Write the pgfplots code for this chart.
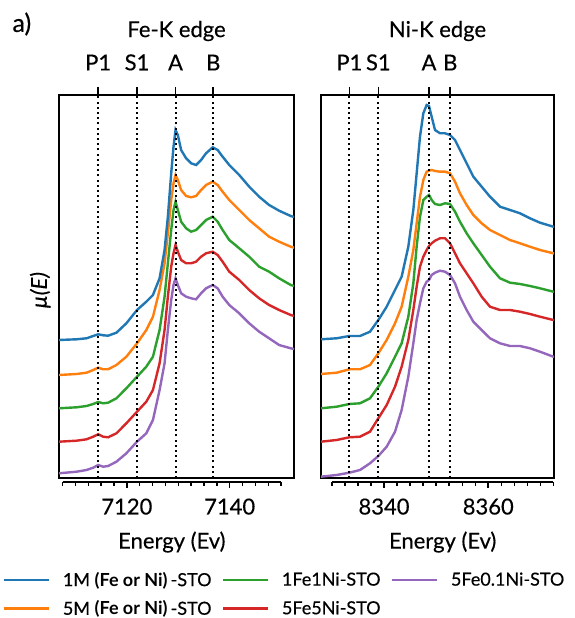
\documentclass[border=0pt]{standalone}
\usepackage{fontspec}
\setmainfont{Lato}[UprightFeatures={FakeBold=0.35}, ItalicFeatures={FakeBold=0.35}]
\usepackage{pgfplots}
\usepackage{pgfplotstable}
\pgfplotsset{compat=1.18}

\definecolor{cblue}{HTML}{1F77B4}
\definecolor{corange}{HTML}{FF7F0E}
\definecolor{cgreen}{HTML}{2CA02C}
\definecolor{cred}{HTML}{D62728}
\definecolor{cpurple}{HTML}{9467BD}

% Fe-K edge, offset spectra (arbitrary units)
\pgfplotstableread{
E       s1    s2    s3    s4    s5
7106.8  138.0 103.0 69.7  36.3  4.7
7110.22 138.7 104.0 70.7  37.3  6.3
7112.16 139.7 105.3 72.0  38.7  8.0
7113.45 142.0 108.0 74.0  41.3  10.3
7114.42 143.7 110.3 76.0  43.7  13.0
7115.39 142.7 108.7 74.7  41.3  11.3
7116.35 142.3 108.7 75.3  40.7  12.0
7117.97 145.3 113.0 79.7  44.7  16.3
7119.90 154.7 121.3 89.7  54.7  24.7
7121.97 168.0 134.7 101.3 66.3  36.3
7123.78 176.3 148.0 111.3 76.3  44.7
7125.07 183.0 161.3 121.3 88.0  58.0
7126.36 199.7 188.0 148.0 114.7 88.0
7127.33 228.0 214.7 181.3 148.0 114.7
7127.97 261.3 244.7 214.7 181.3 148.0
7128.62 304.7 278.0 248.0 211.3 178.0
7129.07 331.3 294.7 268.0 224.7 193.0
7129.46 348.0 303.0 276.3 233.0 199.7
7129.91 343.0 298.0 268.0 226.3 193.0
7130.55 328.0 288.0 256.3 218.0 184.7
7131.52 319.7 282.0 249.7 214.7 181.3
7132.49 314.7 280.7 246.3 214.7 179.7
7133.46 313.0 282.0 248.0 216.3 178.7
7134.43 318.0 288.0 253.0 221.3 184.7
7135.40 324.7 293.0 258.0 224.7 189.7
7136.69 330.7 296.3 261.3 226.3 193.0
7137.65 328.0 293.0 256.3 223.0 189.7
7138.62 321.3 286.3 248.0 216.3 181.3
7139.91 313.0 278.0 238.0 206.3 173.0
7141.85 303.0 268.0 229.7 198.0 164.7
7143.79 291.3 258.0 221.3 188.0 154.7
7145.72 281.3 249.7 211.3 179.7 146.3
7147.66 273.0 241.3 206.3 173.0 139.7
7149.60 267.3 236.3 199.7 168.0 133.0
7151.86 262.0 231.3 193.0 163.0 129.7
7152.5  261.0 230.3 192.0 162.0 129.0
}\fetable

% Ni-K edge
\pgfplotstableread{
E       s1    s2    s3    s4    s5
8327.9  138.7 104.0 69.7  36.3  1.3
8330.91 139.7 105.3 71.3  38.0  3.0
8333.34 142.0 108.7 74.0  40.7  5.3
8335.38 142.0 108.7 74.7  41.3  8.0
8337.30 146.3 113.0 79.7  46.3  14.7
8338.90 158.0 124.7 91.3  59.7  22.0
8340.50 171.3 138.0 104.7 73.0  31.3
8342.10 188.0 154.7 121.3 91.3  46.3
8343.37 201.3 171.3 134.7 111.3 68.0
8344.65 231.3 201.3 161.3 138.0 101.3
8345.61 268.0 228.0 194.7 168.0 134.7
8346.25 304.7 254.7 231.3 191.3 158.0
8346.89 341.3 281.3 261.3 211.3 174.7
8347.53 364.7 298.0 278.0 221.3 189.7
8348.17 373.0 306.3 281.3 228.0 196.3
8348.62 372.0 307.3 283.0 232.0 198.0
8349.13 361.3 308.0 278.0 234.7 203.0
8349.77 348.0 307.0 274.0 237.3 205.3
8350.73 344.7 306.3 273.0 239.7 207.3
8351.69 344.7 306.3 274.7 239.7 206.3
8352.65 343.0 304.7 274.0 234.7 203.0
8353.61 338.0 296.3 266.3 224.7 194.7
8354.56 328.0 284.7 256.3 214.7 181.3
8355.84 314.7 273.0 244.7 204.7 168.0
8357.12 301.3 263.0 234.7 194.7 156.3
8358.72 291.3 254.7 223.0 181.3 148.0
8360.32 281.3 248.0 211.3 171.3 139.7
8362.24 271.3 243.0 199.7 168.0 134.7
8364.16 268.0 238.0 195.3 168.0 132.0
8366.07 264.7 234.7 194.0 166.3 132.0
8367.99 259.7 231.3 192.0 164.0 129.7
8369.91 255.3 228.0 189.7 161.3 126.3
8372.47 251.3 224.7 186.3 158.0 121.3
8372.6  251.2 224.6 186.2 157.9 121.2
}\nitable

\pgfplotsset{
  every axis/.append style={font=\fontsize{22}{26}\selectfont},
  panel/.style={
    scale only axis, height=383pt, ymin=0, ymax=383, ytick=\empty,
    xtick pos=right, xticklabel pos=right, tick align=outside,
    major tick length=8pt, major tick style={black, line width=1.6pt},
    axis line style={line width=1.6pt},
    xticklabel shift=10pt, xticklabel style={yshift=3pt},
    title style={at={(0.5,1)}, anchor=center, yshift=58pt},
    every axis plot/.append style={line width=2.4pt},
  },
  bot/.style={
    scale only axis, height=10pt, ymin=0, ymax=1,
    axis x line*=bottom, axis y line=none, tick align=outside,
    major tick length=6pt, minor tick length=4pt,
    major tick style={black, line width=1.6pt},
    minor tick style={black, line width=1.4pt},
    axis line style={line width=1.6pt},
    xticklabel shift=7pt,
    /pgf/number format/1000 sep={},
    /pgf/number format/assume math mode=true,
    xlabel={Energy (Ev)}, xlabel style={yshift=-10pt},
  },
  vl/.style={black, line width=2pt, dash pattern=on 2pt off 3.2pt},
}

\begin{document}
\begin{tikzpicture}[x=1pt,y=1pt]
\path[use as bounding box] (0,0) rectangle (574,618);
\node[anchor=west, font=\fontsize{25}{28}\selectfont] at (9,594) {a)};

% ---- Fe-K edge ----
\begin{axis}[panel, at={(59pt,140pt)}, anchor=south west, width=235pt,
  xmin=7106.8, xmax=7152.5,
  xtick={7114.42,7121.97,7129.46,7136.8}, xticklabels={P1,S1,A,B},
  title={Fe-K edge},
  ylabel={\itshape µ(E)},
  ylabel style={at={(axis description cs:-0.08,0.49)}, anchor=center}]
\addplot[cpurple] table[x=E,y=s5] {\fetable};
\addplot[cred] table[x=E,y=s4] {\fetable};
\addplot[cgreen] table[x=E,y=s3] {\fetable};
\addplot[corange] table[x=E,y=s2] {\fetable};
\addplot[cblue] table[x=E,y=s1] {\fetable};
\addplot[vl] coordinates {(7114.42,0) (7114.42,383)};
\addplot[vl] coordinates {(7121.97,0) (7121.97,383)};
\addplot[vl] coordinates {(7129.46,0) (7129.46,383)};
\addplot[vl] coordinates {(7136.8,0) (7136.8,383)};
\end{axis}
\begin{axis}[bot, at={(62.6pt,136pt)}, anchor=south west, width=218.5pt,
  xmin=7107.5, xmax=7150, xtick={7120,7140},
  minor xtick={7107.5,7110,7112.5,7115,7117.5,7122.5,7125,7127.5,7130,7132.5,7135,7137.5,7142.5,7145,7147.5,7150}]
\end{axis}

% ---- Ni-K edge ----
\begin{axis}[panel, at={(321pt,140pt)}, anchor=south west, width=233pt,
  xmin=8327.9, xmax=8372.6,
  xtick={8333.34,8338.9,8348.62,8352.7}, xticklabels={P1,S1,A,B},
  title={Ni-K edge}]
\addplot[cpurple] table[x=E,y=s5] {\nitable};
\addplot[cred] table[x=E,y=s4] {\nitable};
\addplot[cgreen] table[x=E,y=s3] {\nitable};
\addplot[corange] table[x=E,y=s2] {\nitable};
\addplot[cblue] table[x=E,y=s1] {\nitable};
\addplot[vl] coordinates {(8333.34,0) (8333.34,383)};
\addplot[vl] coordinates {(8338.9,0) (8338.9,383)};
\addplot[vl] coordinates {(8348.62,0) (8348.62,383)};
\addplot[vl] coordinates {(8352.7,0) (8352.7,383)};
\end{axis}
\begin{axis}[bot, at={(331.9pt,136pt)}, anchor=south west, width=221.5pt,
  xmin=8330, xmax=8372.5, xtick={8340,8360},
  minor xtick={8330,8332.5,8335,8337.5,8342.5,8345,8347.5,8350,8352.5,8355,8357.5,8362.5,8365,8367.5,8370,8372.5}]
\end{axis}

% ---- legend ----
\begin{axis}[hide axis, scale only axis, at={(0pt,0pt)}, anchor=south west,
  width=574pt, height=618pt, xmin=0, xmax=1, ymin=0, ymax=1,
  legend columns=3, legend cell align=left,
  legend image code/.code={\draw[#1, line width=2.4pt] (0pt,0pt) -- (45pt,0pt);},
  legend style={at={(0.004,0.078)}, anchor=north west, draw=none, fill=none,
    font=\fontsize{18}{21}\selectfont, inner sep=0pt, row sep=9pt,
    /tikz/every odd column/.append style={column sep=11pt},
    /tikz/every even column/.append style={column sep=8pt}}]
\addlegendimage{cblue}
\addlegendentry{1M \textbf{(Fe or Ni)}\,-STO}
\addlegendimage{cgreen}
\addlegendentry{1Fe1Ni-STO}
\addlegendimage{cpurple}
\addlegendentry{5Fe0.1Ni-STO}
\addlegendimage{corange}
\addlegendentry{5M \textbf{(Fe or Ni)}\,-STO}
\addlegendimage{cred}
\addlegendentry{5Fe5Ni-STO}
\end{axis}
\end{tikzpicture}
\end{document}
